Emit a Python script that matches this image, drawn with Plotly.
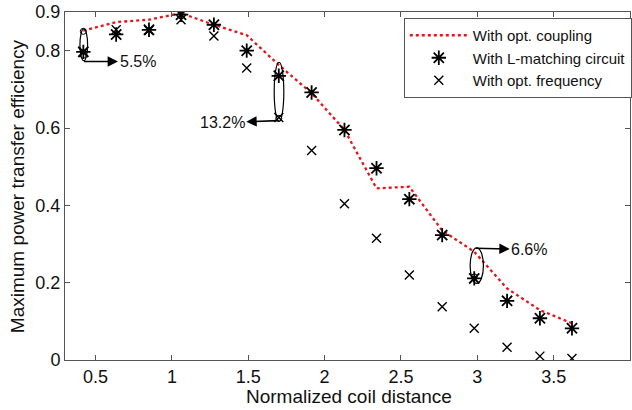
import plotly.graph_objects as go

# ---- data ----
distance = [0.42, 0.635, 0.85, 1.06, 1.275, 1.49, 1.70, 1.915, 2.13, 2.34,
            2.555, 2.77, 2.98, 3.195, 3.41, 3.62]
eff_opt_coupling = [0.852, 0.874, 0.880, 0.897, 0.867, 0.840, 0.763, 0.690, 0.595, 0.444,
                    0.448, 0.335, 0.280, 0.185, 0.129, 0.095]
eff_l_matching = [0.797, 0.842, 0.854, 0.893, 0.867, 0.800, 0.735, 0.692, 0.595, 0.496,
                  0.416, 0.323, 0.211, 0.153, 0.108, 0.082]
eff_opt_frequency = [0.795, 0.854, 0.852, 0.880, 0.838, 0.755, 0.627, 0.542, 0.404, 0.315,
                     0.220, 0.138, 0.082, 0.033, 0.010, 0.004]

x_ticks = [0.5, 1, 1.5, 2, 2.5, 3, 3.5, 4]
x_tick_labels = ["0.5", "1", "1.5", "2", "2.5", "3", "3.5", "4"]
y_ticks = [0, 0.2, 0.4, 0.6, 0.8, 0.9]
y_tick_labels = ["0", "0.2", "0.4", "0.6", "0.8", "0.9"]

# annotation callouts: (ellipse x0, x1, y0, y1), arrow start, label position, label
ellipses = [(0.398, 0.448, 0.774, 0.856), (1.670, 1.733, 0.617, 0.770), (2.953, 3.040, 0.198, 0.290)]
arrow_from = [(0.425, 0.772), (1.70, 0.619), (2.99, 0.289)]
label_pos = [(0.775, 0.772), (1.33, 0.614), (3.34, 0.286)]
labels = ["5.5%", "13.2%", "6.6%"]
end_circles_x = [0.42, 0.42, 1.70, 2.98]
end_circles_y = [0.850, 0.788, 0.625, 0.215]

FONT = "Liberation Sans, Arial, sans-serif"
AX = "#555555"

fig = go.Figure()
fig.add_trace(go.Scatter(x=distance, y=eff_opt_coupling, mode="lines",
                         name="With opt. coupling",
                         line=dict(color="#e8141b", width=2.3, dash="dot")))
fig.add_trace(go.Scatter(x=distance, y=eff_l_matching, mode="markers",
                         name="With L-matching circuit",
                         marker=dict(symbol="asterisk-open", size=12, color="black",
                                     line=dict(color="black", width=1.8))))
fig.add_trace(go.Scatter(x=distance, y=eff_opt_frequency, mode="markers",
                         name="With opt. frequency",
                         marker=dict(symbol="x-thin-open", size=9, color="black",
                                     line=dict(color="black", width=1.4))))
fig.add_trace(go.Scatter(x=end_circles_x, y=end_circles_y, mode="markers", showlegend=False,
                         hoverinfo="skip",
                         marker=dict(symbol="circle-open", size=6, color="black",
                                     line=dict(color="black", width=1))))

for (x0, x1, y0, y1) in ellipses:
    fig.add_shape(type="circle", xref="x", yref="y", x0=x0, x1=x1, y0=y0, y1=y1,
                  line=dict(color="black", width=1.2))

for (fx, fy), (lx, ly), txt in zip(arrow_from, label_pos, labels):
    fig.add_annotation(x=fx, y=fy, ax=lx, ay=ly, axref="x", ayref="y", xref="x", yref="y",
                       text=txt, showarrow=True, arrowside="start", startarrowhead=2,
                       startarrowsize=1.3, arrowwidth=1.6, arrowcolor="black",
                       font=dict(family=FONT, size=16, color="#111"))

fig.add_annotation(x=(350 - 65) / 567, y=(360 - 396) / 348, xref="paper", yref="paper",
                   xanchor="center", yanchor="middle",
                   text="Normalized coil distance", showarrow=False,
                   font=dict(family=FONT, size=19, color="#111"))
fig.add_annotation(x=(17 - 65) / 567, y=(360 - 186) / 348, xref="paper", yref="paper",
                   xanchor="center", yanchor="middle", textangle=-90,
                   text="Maximum power transfer efficiency", showarrow=False,
                   font=dict(family=FONT, size=19, color="#111"))

fig.update_layout(
    width=632, height=410,
    margin=dict(l=65, r=0, t=12, b=50),
    paper_bgcolor="white", plot_bgcolor="white",
    font=dict(family=FONT, color="#111"),
    legend=dict(x=(405 - 65) / 567, y=(360 - 18) / 348, xanchor="left", yanchor="top",
                bordercolor=AX, borderwidth=1, bgcolor="white", itemwidth=58,
                font=dict(family=FONT, size=15, color="#111")),
    showlegend=True,
)
fig.update_xaxes(range=[0.3, 4], tickvals=x_ticks, ticktext=x_tick_labels,
                 showgrid=False, zeroline=False, showline=True, linecolor=AX, linewidth=1,
                 mirror="allticks", ticks="inside", ticklen=5, tickcolor=AX,
                 tickfont=dict(family=FONT, size=18, color="#111"), automargin=False)
fig.update_yaxes(range=[0, 0.9], tickvals=y_ticks, ticktext=y_tick_labels,
                 showgrid=False, zeroline=False, showline=True, linecolor=AX, linewidth=1,
                 mirror="allticks", ticks="inside", ticklen=5, tickcolor=AX,
                 tickfont=dict(family=FONT, size=18, color="#111"), automargin=False)

fig.write_html("out.html")
